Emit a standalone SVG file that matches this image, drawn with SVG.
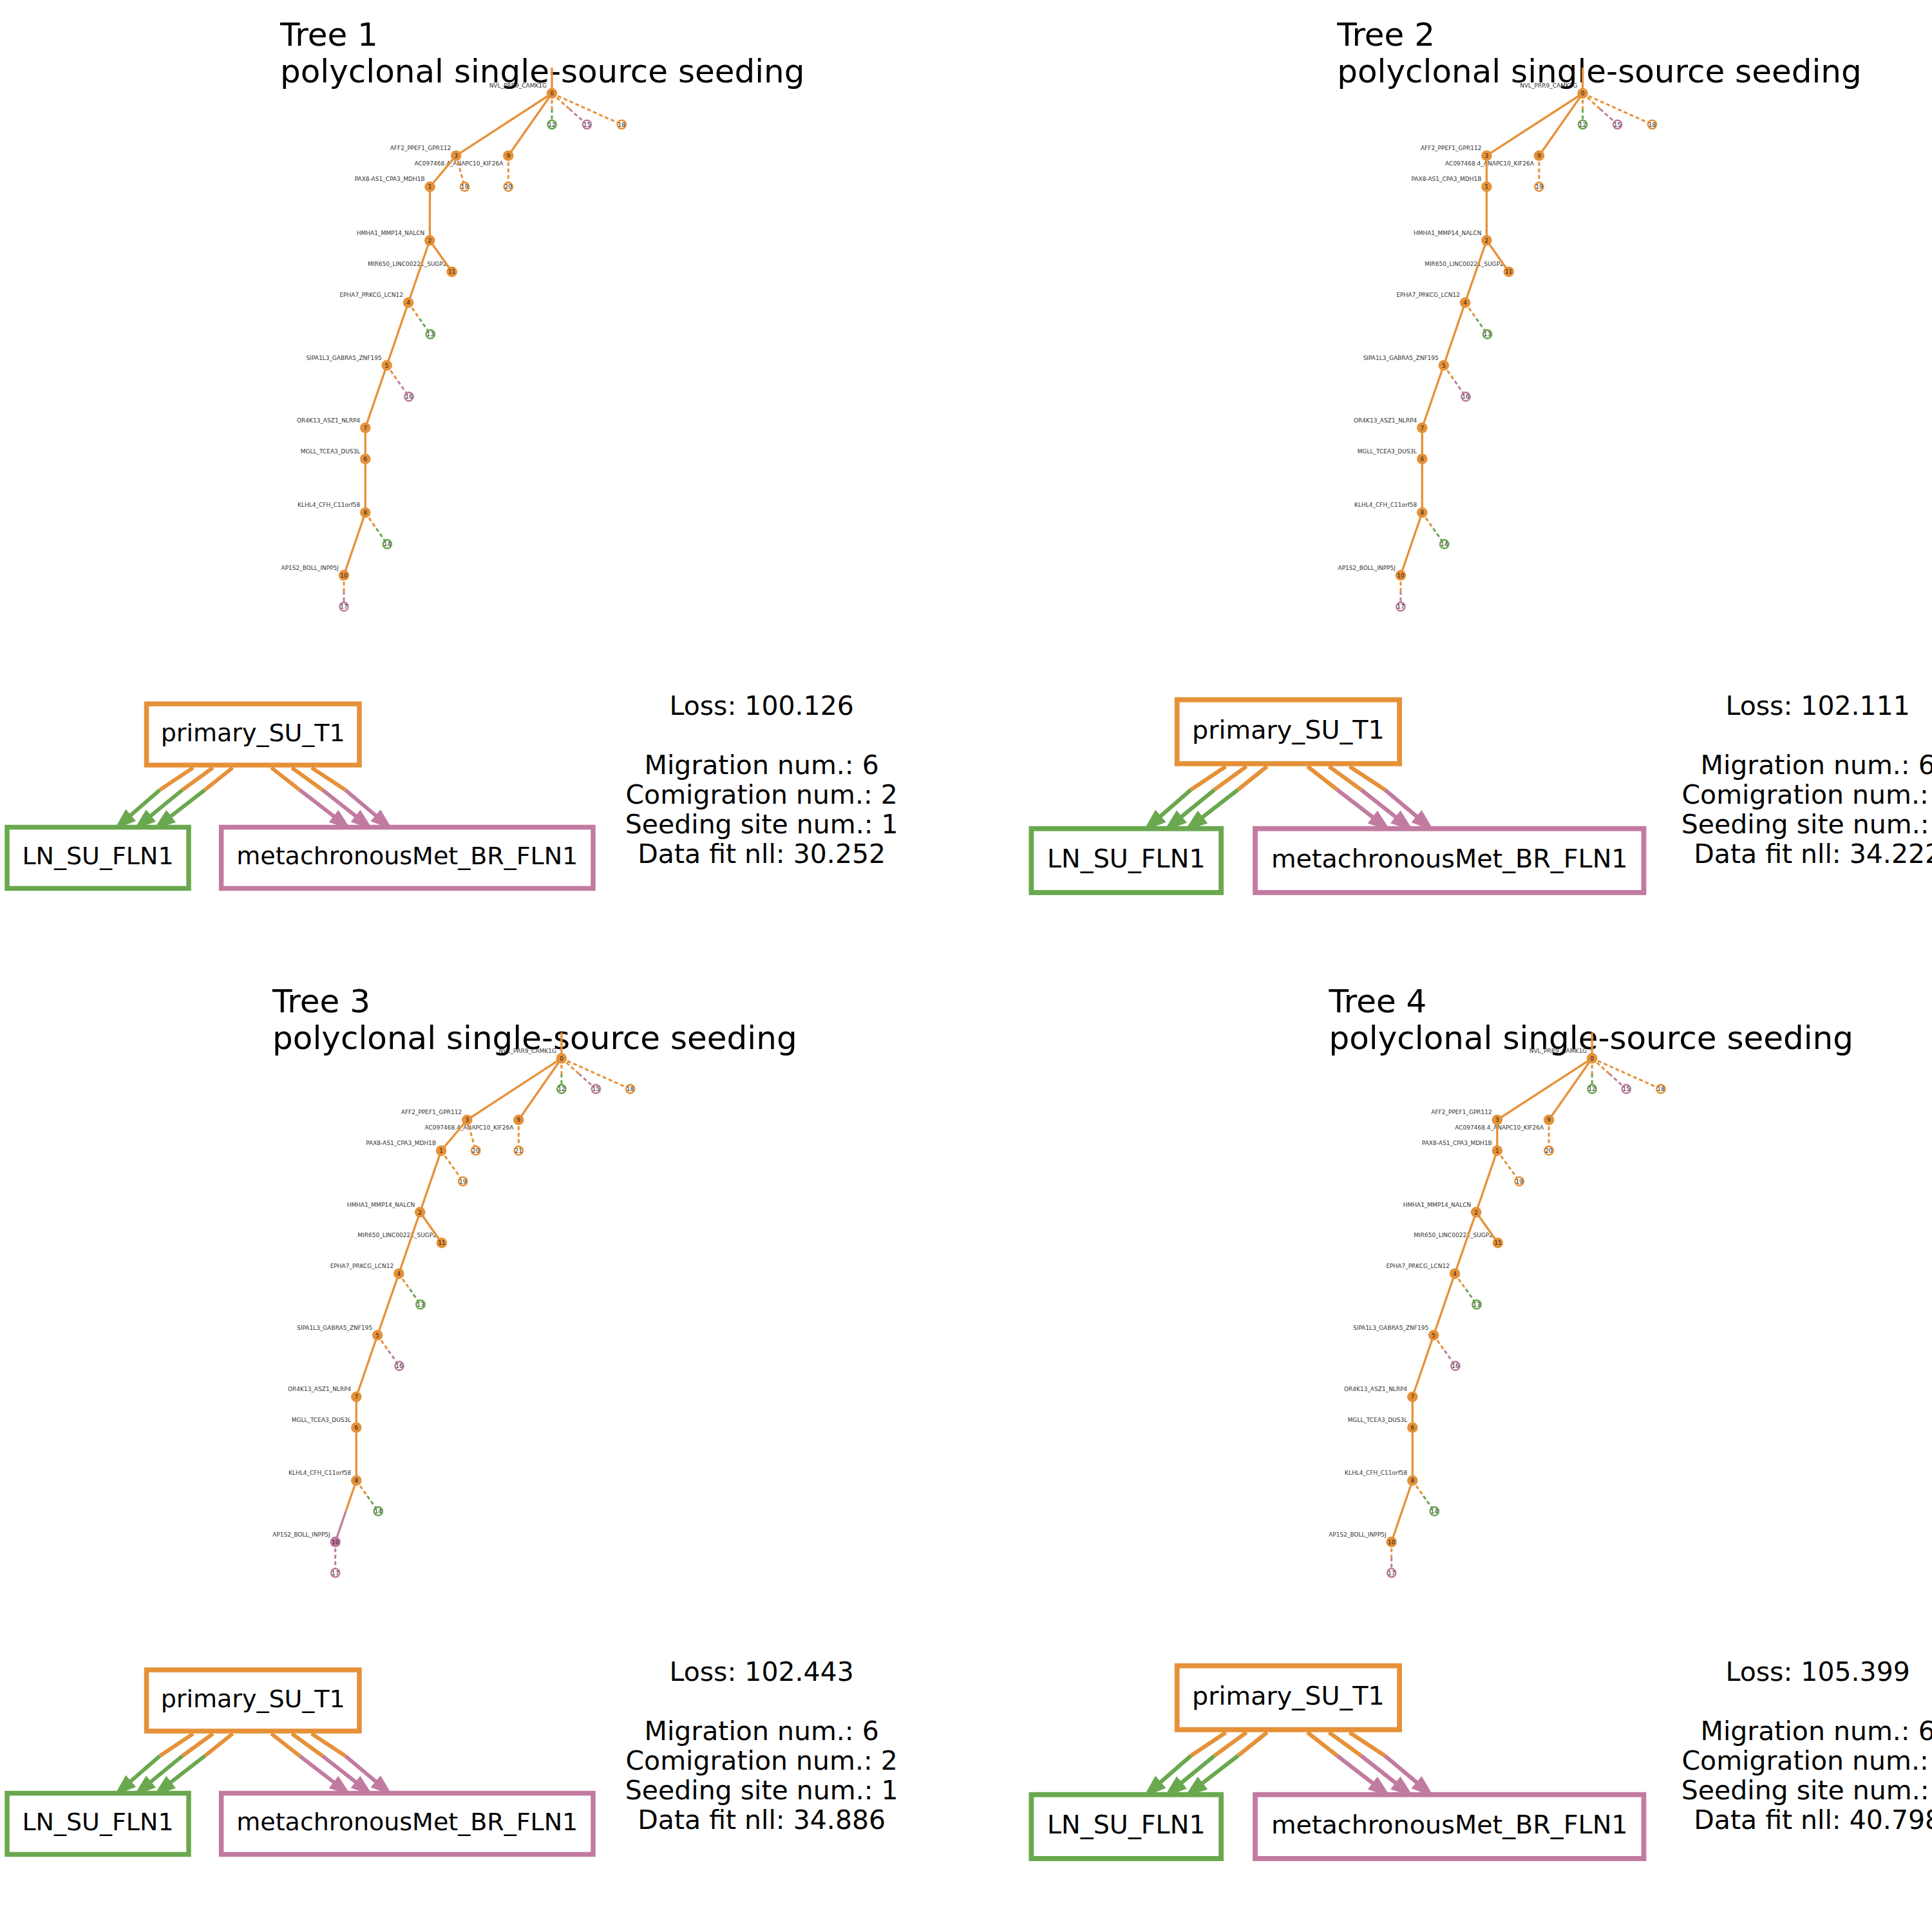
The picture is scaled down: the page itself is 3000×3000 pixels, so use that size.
<svg xmlns="http://www.w3.org/2000/svg" width="3000" height="3000" viewBox="0 0 3000 3000">
<style>
text{font-family:"DejaVu Sans","Liberation Sans",sans-serif}
.title{font-size:50px;fill:#000}
.stat{font-size:41px;fill:#000;text-anchor:middle}
.lbl{font-size:9px;fill:#333;text-anchor:end}
.num{font-size:9px;fill:#222;text-anchor:middle}
.gtx{font-size:38px;fill:#000;text-anchor:middle}
.se{stroke:#e69138;stroke-width:3.3;fill:none}
.sp{stroke:#c27ba0;stroke-width:3.3;fill:none}
.dO{stroke:#e69138;stroke-width:3;stroke-dasharray:6 4;fill:none}
.dG{stroke:#6aa84f;stroke-width:3;stroke-dasharray:6 4;fill:none}
.dP{stroke:#c27ba0;stroke-width:3;stroke-dasharray:6 4;fill:none}
.fo{fill:#e69138}
.fp{fill:#c27ba0}
.hO{fill:#fff;stroke:#e69138;stroke-width:2.6}
.hG{fill:#fff;stroke:#6aa84f;stroke-width:2.6}
.hP{fill:#fff;stroke:#c27ba0;stroke-width:2.6}
.bx{fill:#fff;stroke-width:7.5}
.bO{stroke:#e69138}.bG{stroke:#6aa84f}.bP{stroke:#c27ba0}
.mO{stroke:#e69138;stroke-width:6;fill:none}
.mG{stroke:#6aa84f;stroke-width:6;fill:none;marker-end:url(#ahG)}
.mP{stroke:#c27ba0;stroke-width:6;fill:none;marker-end:url(#ahP)}
</style>
<defs>
<marker id="ahG" markerUnits="userSpaceOnUse" markerWidth="36" markerHeight="26" refX="4" refY="12" orient="auto" overflow="visible"><path d="M0,0 L34,12 L0,24 z" fill="#6aa84f"/></marker>
<marker id="ahP" markerUnits="userSpaceOnUse" markerWidth="36" markerHeight="26" refX="4" refY="12" orient="auto" overflow="visible"><path d="M0,0 L34,12 L0,24 z" fill="#c27ba0"/></marker>
</defs>
<rect width="3000" height="3000" fill="#fff"/>

<!-- ================= TREE 1 ================= -->
<g id="tree1">
<text class="title" x="435" y="71">Tree 1</text>
<text class="title" x="435" y="128.3">polyclonal single-source seeding</text>
<g id="t1-labels">
<text class="lbl" x="849" y="136.3">NVL_PRR9_CAMK1G</text>
<text class="lbl" x="700.2" y="233">AFF2_PPEF1_GPR112</text>
<text class="lbl" x="781.3" y="257">AC097468.4_ANAPC10_KIF26A</text>
<text class="lbl" x="659.6" y="281.3">PAX8-AS1_CPA3_MDH1B</text>
<text class="lbl" x="659.3" y="364.6">HMHA1_MMP14_NALCN</text>
<text class="lbl" x="693.7" y="413.3">MIR650_LINC00221_SUGP2</text>
<text class="lbl" x="626" y="461.3">EPHA7_PRKCG_LCN12</text>
<text class="lbl" x="592.7" y="558.6">SIPA1L3_GABRA5_ZNF195</text>
<text class="lbl" x="559.3" y="655.6">OR4K13_ASZ1_NLRP4</text>
<text class="lbl" x="559.3" y="704">MGLL_TCEA3_DUS3L</text>
<text class="lbl" x="559.3" y="787.3">KLHL4_CFH_C11orf58</text>
<text class="lbl" x="526" y="884.6">AP1S2_BOLL_INPP5J</text>
</g>
<g id="t1-edges">
<path class="dO" d="M857,145 L857,169.2"/><path class="dG" d="M857,169.2 L857,193.3"/>
<path class="dO" d="M857,145 L884.2,169.2"/><path class="dP" d="M884.2,169.2 L911.4,193.3"/>
<path class="dO" d="M857,145 L965.3,193.3"/>
<path class="dO" d="M708.2,241.7 L721.6,290"/>
<path class="dO" d="M789.3,241.7 L789.3,290"/>
<path class="dO" d="M634,470 L651.2,494.5"/><path class="dG" d="M651.2,494.5 L668.3,519"/>
<path class="dO" d="M600.7,567.3 L617.9,591.7"/><path class="dP" d="M617.9,591.7 L635,616"/>
<path class="dO" d="M567.3,796 L584.3,820.5"/><path class="dG" d="M584.3,820.5 L601.3,845"/>
<path class="dO" d="M534,893.3 L534,917.7"/><path class="dP" d="M534,917.7 L534,942"/>
<path class="se" d="M857,105 L857,145"/>
<path class="se" d="M857,145 L708.2,241.7"/>
<path class="se" d="M857,145 L789.3,241.7"/>
<path class="se" d="M708.2,241.7 L667.6,290 L667.3,373.3 L634,470 L600.7,567.3 L567.3,664.3 L567.3,712.7 L567.3,796 L534,893.3"/>
<path class="se" d="M667.3,373.3 L701.7,422"/>
</g>
<g id="t1-n0"><circle class="fo" cx="857" cy="145" r="8.3"/><text class="num" x="857" y="148.2">0</text></g>
<g id="t1-n3"><circle class="fo" cx="708.2" cy="241.7" r="8.3"/><text class="num" x="708.2" y="244.9">3</text></g>
<g id="t1-n9"><circle class="fo" cx="789.3" cy="241.7" r="8.3"/><text class="num" x="789.3" y="244.9">9</text></g>
<g id="t1-n1"><circle class="fo" cx="667.6" cy="290" r="8.3"/><text class="num" x="667.6" y="293.2">1</text></g>
<g id="t1-n2"><circle class="fo" cx="667.3" cy="373.3" r="8.3"/><text class="num" x="667.3" y="376.5">2</text></g>
<g id="t1-n11"><circle class="fo" cx="701.7" cy="422" r="8.3"/><text class="num" x="701.7" y="425.2">11</text></g>
<g id="t1-n4"><circle class="fo" cx="634" cy="470" r="8.3"/><text class="num" x="634" y="473.2">4</text></g>
<g id="t1-n5"><circle class="fo" cx="600.7" cy="567.3" r="8.3"/><text class="num" x="600.7" y="570.5">5</text></g>
<g id="t1-n7"><circle class="fo" cx="567.3" cy="664.3" r="8.3"/><text class="num" x="567.3" y="667.5">7</text></g>
<g id="t1-n6"><circle class="fo" cx="567.3" cy="712.7" r="8.3"/><text class="num" x="567.3" y="715.9">6</text></g>
<g id="t1-n8"><circle class="fo" cx="567.3" cy="796" r="8.3"/><text class="num" x="567.3" y="799.2">8</text></g>
<g id="t1-n10"><circle class="fo" cx="534" cy="893.3" r="8.3"/><text class="num" x="534" y="896.5">10</text></g>
<g id="t1-n12"><circle class="hG" cx="857" cy="193.3" r="6.6"/><text class="num" x="857" y="196.5">12</text></g>
<g id="t1-n15"><circle class="hP" cx="911.4" cy="193.3" r="6.6"/><text class="num" x="911.4" y="196.5">15</text></g>
<g id="t1-n18"><circle class="hO" cx="965.3" cy="193.3" r="6.6"/><text class="num" x="965.3" y="196.5">18</text></g>
<g id="t1-n19"><circle class="hO" cx="721.6" cy="290" r="6.6"/><text class="num" x="721.6" y="293.2">19</text></g>
<g id="t1-n20"><circle class="hO" cx="789.3" cy="290" r="6.6"/><text class="num" x="789.3" y="293.2">20</text></g>
<g id="t1-n13"><circle class="hG" cx="668.3" cy="519" r="6.6"/><text class="num" x="668.3" y="522.2">13</text></g>
<g id="t1-n16"><circle class="hP" cx="635" cy="616" r="6.6"/><text class="num" x="635" y="619.2">16</text></g>
<g id="t1-n14"><circle class="hG" cx="601.3" cy="845" r="6.6"/><text class="num" x="601.3" y="848.2">14</text></g>
<g id="t1-n17"><circle class="hP" cx="534" cy="942" r="6.6"/><text class="num" x="534" y="945.2">17</text></g>
</g>

<!-- migration graph 1 -->
<g id="mig1">
<g id="mig1-nodes">
<g id="m1-primary"><rect class="bx bO" x="227.5" y="1093" width="330.5" height="95"/><text class="gtx" x="392.75" y="1150.7">primary_SU_T1</text></g>
<g id="m1-ln"><rect class="bx bG" x="11" y="1284.5" width="282" height="95"/><text class="gtx" x="152" y="1342">LN_SU_FLN1</text></g>
<g id="m1-met"><rect class="bx bP" x="343.6" y="1284.5" width="577.4" height="95"/><text class="gtx" x="632.3" y="1342">metachronousMet_BR_FLN1</text></g>
</g>
<g id="mig1-edges">
<path class="mO" d="M300,1192 L248,1226.7"/><path class="mG" d="M248,1226.7 L200.2,1268.3"/>
<path class="mO" d="M330.7,1192 L283,1226.7"/><path class="mG" d="M283,1226.7 L231.4,1269"/>
<path class="mO" d="M361.3,1192 L318,1226.7"/><path class="mG" d="M318,1226.7 L262.5,1269.6"/>
<path class="mO" d="M421.3,1192 L465.4,1226.7"/><path class="mP" d="M465.4,1226.7 L521.2,1269.7"/>
<path class="mO" d="M453.2,1192 L501,1226.7"/><path class="mP" d="M501,1226.7 L555.2,1269.4"/>
<path class="mO" d="M483.8,1192 L536.4,1226.7"/><path class="mP" d="M536.4,1226.7 L586.3,1268.7"/>
</g>
</g>
<g id="stats1">
<text class="stat" x="1182.7" y="1109.5">Loss: 100.126</text>
<text class="stat" x="1182.7" y="1201.5">Migration num.: 6</text>
<text class="stat" x="1182.7" y="1247.5">Comigration num.: 2</text>
<text class="stat" x="1182.7" y="1293.5">Seeding site num.: 1</text>
<text class="stat" x="1182.7" y="1339.5">Data fit nll: 30.252</text>
</g>

<!-- ================= TREE 2 ================= -->
<g id="tree2">
<text class="title" x="2076.2" y="71">Tree 2</text>
<text class="title" x="2076.2" y="128.3">polyclonal single-source seeding</text>
<g id="t2-labels">
<text class="lbl" x="2449.6" y="136.3">NVL_PRR9_CAMK1G</text>
<text class="lbl" x="2300.4" y="233">AFF2_PPEF1_GPR112</text>
<text class="lbl" x="2381.9" y="257">AC097468.4_ANAPC10_KIF26A</text>
<text class="lbl" x="2300.4" y="281.3">PAX8-AS1_CPA3_MDH1B</text>
<text class="lbl" x="2300.4" y="364.6">HMHA1_MMP14_NALCN</text>
<text class="lbl" x="2334.8" y="413.3">MIR650_LINC00221_SUGP2</text>
<text class="lbl" x="2267" y="461.3">EPHA7_PRKCG_LCN12</text>
<text class="lbl" x="2233.8" y="558.6">SIPA1L3_GABRA5_ZNF195</text>
<text class="lbl" x="2200.3" y="655.6">OR4K13_ASZ1_NLRP4</text>
<text class="lbl" x="2200.3" y="704">MGLL_TCEA3_DUS3L</text>
<text class="lbl" x="2200.3" y="787.3">KLHL4_CFH_C11orf58</text>
<text class="lbl" x="2167" y="884.6">AP1S2_BOLL_INPP5J</text>
</g>
<g id="t2-edges">
<path class="dO" d="M2457.6,145 L2457.6,169.2"/><path class="dG" d="M2457.6,169.2 L2457.6,193.3"/>
<path class="dO" d="M2457.6,145 L2484.6,169.2"/><path class="dP" d="M2484.6,169.2 L2511.6,193.3"/>
<path class="dO" d="M2457.6,145 L2565.5,193.3"/>
<path class="dO" d="M2389.9,241.7 L2389.9,290"/>
<path class="dO" d="M2275,470 L2292.3,494.5"/><path class="dG" d="M2292.3,494.5 L2309.5,519"/>
<path class="dO" d="M2241.8,567.3 L2258.9,591.7"/><path class="dP" d="M2258.9,591.7 L2276,616"/>
<path class="dO" d="M2208.3,796 L2225.5,820.5"/><path class="dG" d="M2225.5,820.5 L2242.7,845"/>
<path class="dO" d="M2175,893.3 L2175,917.7"/><path class="dP" d="M2175,917.7 L2175,942"/>
<path class="se" d="M2457.6,105 L2457.6,145"/>
<path class="se" d="M2457.6,145 L2308.4,241.7"/>
<path class="se" d="M2457.6,145 L2389.9,241.7"/>
<path class="se" d="M2308.4,241.7 L2308.4,290 L2308.4,373.3 L2275,470 L2241.8,567.3 L2208.3,664.3 L2208.3,712.7 L2208.3,796 L2175,893.3"/>
<path class="se" d="M2308.4,373.3 L2342.8,422"/>
</g>
<g id="t2-n0"><circle class="fo" cx="2457.6" cy="145" r="8.3"/><text class="num" x="2457.6" y="148.2">0</text></g>
<g id="t2-n3"><circle class="fo" cx="2308.4" cy="241.7" r="8.3"/><text class="num" x="2308.4" y="244.9">3</text></g>
<g id="t2-n9"><circle class="fo" cx="2389.9" cy="241.7" r="8.3"/><text class="num" x="2389.9" y="244.9">9</text></g>
<g id="t2-n1"><circle class="fo" cx="2308.4" cy="290" r="8.3"/><text class="num" x="2308.4" y="293.2">1</text></g>
<g id="t2-n2"><circle class="fo" cx="2308.4" cy="373.3" r="8.3"/><text class="num" x="2308.4" y="376.5">2</text></g>
<g id="t2-n11"><circle class="fo" cx="2342.8" cy="422" r="8.3"/><text class="num" x="2342.8" y="425.2">11</text></g>
<g id="t2-n4"><circle class="fo" cx="2275" cy="470" r="8.3"/><text class="num" x="2275" y="473.2">4</text></g>
<g id="t2-n5"><circle class="fo" cx="2241.8" cy="567.3" r="8.3"/><text class="num" x="2241.8" y="570.5">5</text></g>
<g id="t2-n7"><circle class="fo" cx="2208.3" cy="664.3" r="8.3"/><text class="num" x="2208.3" y="667.5">7</text></g>
<g id="t2-n6"><circle class="fo" cx="2208.3" cy="712.7" r="8.3"/><text class="num" x="2208.3" y="715.9">6</text></g>
<g id="t2-n8"><circle class="fo" cx="2208.3" cy="796" r="8.3"/><text class="num" x="2208.3" y="799.2">8</text></g>
<g id="t2-n10"><circle class="fo" cx="2175" cy="893.3" r="8.3"/><text class="num" x="2175" y="896.5">10</text></g>
<g id="t2-n12"><circle class="hG" cx="2457.6" cy="193.3" r="6.6"/><text class="num" x="2457.6" y="196.5">12</text></g>
<g id="t2-n15"><circle class="hP" cx="2511.6" cy="193.3" r="6.6"/><text class="num" x="2511.6" y="196.5">15</text></g>
<g id="t2-n18"><circle class="hO" cx="2565.5" cy="193.3" r="6.6"/><text class="num" x="2565.5" y="196.5">18</text></g>
<g id="t2-n19"><circle class="hO" cx="2389.9" cy="290" r="6.6"/><text class="num" x="2389.9" y="293.2">19</text></g>
<g id="t2-n13"><circle class="hG" cx="2309.5" cy="519" r="6.6"/><text class="num" x="2309.5" y="522.2">13</text></g>
<g id="t2-n16"><circle class="hP" cx="2276" cy="616" r="6.6"/><text class="num" x="2276" y="619.2">16</text></g>
<g id="t2-n14"><circle class="hG" cx="2242.7" cy="845" r="6.6"/><text class="num" x="2242.7" y="848.2">14</text></g>
<g id="t2-n17"><circle class="hP" cx="2175" cy="942" r="6.6"/><text class="num" x="2175" y="945.2">17</text></g>
</g>

<g id="mig2" transform="matrix(1.045 0 0 1.045 1590 -55.6)">
<g id="mig2-nodes">
<g id="m2-primary"><rect class="bx bO" x="227.5" y="1093" width="330.5" height="95"/><text class="gtx" x="392.75" y="1150.7">primary_SU_T1</text></g>
<g id="m2-ln"><rect class="bx bG" x="11" y="1284.5" width="282" height="95"/><text class="gtx" x="152" y="1342">LN_SU_FLN1</text></g>
<g id="m2-met"><rect class="bx bP" x="343.6" y="1284.5" width="577.4" height="95"/><text class="gtx" x="632.3" y="1342">metachronousMet_BR_FLN1</text></g>
</g>
<g id="mig2-edges">
<path class="mO" d="M300,1192 L248,1226.7"/><path class="mG" d="M248,1226.7 L200.2,1268.3"/>
<path class="mO" d="M330.7,1192 L283,1226.7"/><path class="mG" d="M283,1226.7 L231.4,1269"/>
<path class="mO" d="M361.3,1192 L318,1226.7"/><path class="mG" d="M318,1226.7 L262.5,1269.6"/>
<path class="mO" d="M421.3,1192 L465.4,1226.7"/><path class="mP" d="M465.4,1226.7 L521.2,1269.7"/>
<path class="mO" d="M453.2,1192 L501,1226.7"/><path class="mP" d="M501,1226.7 L555.2,1269.4"/>
<path class="mO" d="M483.8,1192 L536.4,1226.7"/><path class="mP" d="M536.4,1226.7 L586.3,1268.7"/>
</g>
</g>
<g id="stats2">
<text class="stat" x="2822.7" y="1109.5">Loss: 102.111</text>
<text class="stat" x="2822.7" y="1201.5">Migration num.: 6</text>
<text class="stat" x="2822.7" y="1247.5">Comigration num.: 2</text>
<text class="stat" x="2822.7" y="1293.5">Seeding site num.: 1</text>
<text class="stat" x="2822.7" y="1339.5">Data fit nll: 34.222</text>
</g>

<!-- ================= TREE 3 ================= -->
<g id="tree3">
<text class="title" x="423.1" y="1572">Tree 3</text>
<text class="title" x="423.1" y="1629.3">polyclonal single-source seeding</text>
<g id="t3-labels">
<text class="lbl" x="863.9" y="1634.6">NVL_PRR9_CAMK1G</text>
<text class="lbl" x="717.3" y="1730.3">AFF2_PPEF1_GPR112</text>
<text class="lbl" x="797.3" y="1754.3">AC097468.4_ANAPC10_KIF26A</text>
<text class="lbl" x="677.1" y="1778">PAX8-AS1_CPA3_MDH1B</text>
<text class="lbl" x="644.2" y="1873.6">HMHA1_MMP14_NALCN</text>
<text class="lbl" x="677.9" y="1921.3">MIR650_LINC00221_SUGP2</text>
<text class="lbl" x="611.3" y="1969">EPHA7_PRKCG_LCN12</text>
<text class="lbl" x="578.2" y="2064.6">SIPA1L3_GABRA5_ZNF195</text>
<text class="lbl" x="545.3" y="2160.3">OR4K13_ASZ1_NLRP4</text>
<text class="lbl" x="545.3" y="2208">MGLL_TCEA3_DUS3L</text>
<text class="lbl" x="545.3" y="2290.3">KLHL4_CFH_C11orf58</text>
<text class="lbl" x="512.7" y="2385.6">AP1S2_BOLL_INPP5J</text>
</g>
<g id="t3-edges">
<path class="dO" d="M871.9,1643.3 L871.9,1667.2"/><path class="dG" d="M871.9,1667.2 L871.9,1691"/>
<path class="dO" d="M871.9,1643.3 L898.7,1667.2"/><path class="dP" d="M898.7,1667.2 L925.4,1691"/>
<path class="dO" d="M871.9,1643.3 L978.6,1691"/>
<path class="dO" d="M725.3,1739 L738.7,1786.7"/>
<path class="dO" d="M805.3,1739 L805.3,1786.7"/>
<path class="dO" d="M685.1,1786.7 L718.8,1834.3"/>
<path class="dO" d="M619.3,1977.7 L636.2,2001.7"/><path class="dG" d="M636.2,2001.7 L653,2025.7"/>
<path class="dO" d="M586.2,2073.3 L603.1,2097.2"/><path class="dP" d="M603.1,2097.2 L620,2121"/>
<path class="dO" d="M553.3,2299 L570.3,2322.9"/><path class="dG" d="M570.3,2322.9 L587.3,2346.7"/>
<path class="dP" d="M520.7,2394.3 L520.7,2442.3"/>
<path class="se" d="M871.9,1603.3 L871.9,1643.3"/>
<path class="se" d="M871.9,1643.3 L725.3,1739"/>
<path class="se" d="M871.9,1643.3 L805.3,1739"/>
<path class="se" d="M725.3,1739 L685.1,1786.7 L652.2,1882.3 L619.3,1977.7 L586.2,2073.3 L553.3,2169 L553.3,2216.7 L553.3,2299 L537,2346.7"/>
<path class="sp" d="M537,2346.7 L520.7,2394.3"/>
<path class="se" d="M652.2,1882.3 L685.9,1930"/>
</g>
<g id="t3-n0"><circle class="fo" cx="871.9" cy="1643.3" r="8.3"/><text class="num" x="871.9" y="1646.5">0</text></g>
<g id="t3-n3"><circle class="fo" cx="725.3" cy="1739" r="8.3"/><text class="num" x="725.3" y="1742.2">3</text></g>
<g id="t3-n9"><circle class="fo" cx="805.3" cy="1739" r="8.3"/><text class="num" x="805.3" y="1742.2">9</text></g>
<g id="t3-n1"><circle class="fo" cx="685.1" cy="1786.7" r="8.3"/><text class="num" x="685.1" y="1789.9">1</text></g>
<g id="t3-n2"><circle class="fo" cx="652.2" cy="1882.3" r="8.3"/><text class="num" x="652.2" y="1885.5">2</text></g>
<g id="t3-n11"><circle class="fo" cx="685.9" cy="1930" r="8.3"/><text class="num" x="685.9" y="1933.2">11</text></g>
<g id="t3-n4"><circle class="fo" cx="619.3" cy="1977.7" r="8.3"/><text class="num" x="619.3" y="1980.9">4</text></g>
<g id="t3-n5"><circle class="fo" cx="586.2" cy="2073.3" r="8.3"/><text class="num" x="586.2" y="2076.5">5</text></g>
<g id="t3-n7"><circle class="fo" cx="553.3" cy="2169" r="8.3"/><text class="num" x="553.3" y="2172.2">7</text></g>
<g id="t3-n6"><circle class="fo" cx="553.3" cy="2216.7" r="8.3"/><text class="num" x="553.3" y="2219.9">6</text></g>
<g id="t3-n8"><circle class="fo" cx="553.3" cy="2299" r="8.3"/><text class="num" x="553.3" y="2302.2">8</text></g>
<g id="t3-n10"><circle class="fp" cx="520.7" cy="2394.3" r="8.3"/><text class="num" x="520.7" y="2397.5">10</text></g>
<g id="t3-n12"><circle class="hG" cx="871.9" cy="1691" r="6.6"/><text class="num" x="871.9" y="1694.2">12</text></g>
<g id="t3-n15"><circle class="hP" cx="925.4" cy="1691" r="6.6"/><text class="num" x="925.4" y="1694.2">15</text></g>
<g id="t3-n18"><circle class="hO" cx="978.6" cy="1691" r="6.6"/><text class="num" x="978.6" y="1694.2">18</text></g>
<g id="t3-n20"><circle class="hO" cx="738.7" cy="1786.7" r="6.6"/><text class="num" x="738.7" y="1789.9">20</text></g>
<g id="t3-n21"><circle class="hO" cx="805.3" cy="1786.7" r="6.6"/><text class="num" x="805.3" y="1789.9">21</text></g>
<g id="t3-n19"><circle class="hO" cx="718.8" cy="1834.3" r="6.6"/><text class="num" x="718.8" y="1837.5">19</text></g>
<g id="t3-n13"><circle class="hG" cx="653" cy="2025.7" r="6.6"/><text class="num" x="653" y="2028.9">13</text></g>
<g id="t3-n16"><circle class="hP" cx="620" cy="2121" r="6.6"/><text class="num" x="620" y="2124.2">16</text></g>
<g id="t3-n14"><circle class="hG" cx="587.3" cy="2346.7" r="6.6"/><text class="num" x="587.3" y="2349.9">14</text></g>
<g id="t3-n17"><circle class="hP" cx="520.7" cy="2442.3" r="6.6"/><text class="num" x="520.7" y="2445.5">17</text></g>
</g>

<g id="mig3" transform="translate(0 1500)">
<g id="mig3-nodes">
<g id="m3-primary"><rect class="bx bO" x="227.5" y="1093" width="330.5" height="95"/><text class="gtx" x="392.75" y="1150.7">primary_SU_T1</text></g>
<g id="m3-ln"><rect class="bx bG" x="11" y="1284.5" width="282" height="95"/><text class="gtx" x="152" y="1342">LN_SU_FLN1</text></g>
<g id="m3-met"><rect class="bx bP" x="343.6" y="1284.5" width="577.4" height="95"/><text class="gtx" x="632.3" y="1342">metachronousMet_BR_FLN1</text></g>
</g>
<g id="mig3-edges">
<path class="mO" d="M300,1192 L248,1226.7"/><path class="mG" d="M248,1226.7 L200.2,1268.3"/>
<path class="mO" d="M330.7,1192 L283,1226.7"/><path class="mG" d="M283,1226.7 L231.4,1269"/>
<path class="mO" d="M361.3,1192 L318,1226.7"/><path class="mG" d="M318,1226.7 L262.5,1269.6"/>
<path class="mO" d="M421.3,1192 L465.4,1226.7"/><path class="mP" d="M465.4,1226.7 L521.2,1269.7"/>
<path class="mO" d="M453.2,1192 L501,1226.7"/><path class="mP" d="M501,1226.7 L555.2,1269.4"/>
<path class="mO" d="M483.8,1192 L536.4,1226.7"/><path class="mP" d="M536.4,1226.7 L586.3,1268.7"/>
</g>
</g>
<g id="stats3">
<text class="stat" x="1182.7" y="2609.5">Loss: 102.443</text>
<text class="stat" x="1182.7" y="2701.5">Migration num.: 6</text>
<text class="stat" x="1182.7" y="2747.5">Comigration num.: 2</text>
<text class="stat" x="1182.7" y="2793.5">Seeding site num.: 1</text>
<text class="stat" x="1182.7" y="2839.5">Data fit nll: 34.886</text>
</g>

<!-- ================= TREE 4 ================= -->
<g id="tree4">
<text class="title" x="2063.5" y="1572">Tree 4</text>
<text class="title" x="2063.5" y="1629.3">polyclonal single-source seeding</text>
<g id="t4-labels">
<text class="lbl" x="2464.1" y="1634.6">NVL_PRR9_CAMK1G</text>
<text class="lbl" x="2316.8" y="1730.3">AFF2_PPEF1_GPR112</text>
<text class="lbl" x="2397.1" y="1754.3">AC097468.4_ANAPC10_KIF26A</text>
<text class="lbl" x="2316.8" y="1778">PAX8-AS1_CPA3_MDH1B</text>
<text class="lbl" x="2284.2" y="1873.6">HMHA1_MMP14_NALCN</text>
<text class="lbl" x="2317.9" y="1921.3">MIR650_LINC00221_SUGP2</text>
<text class="lbl" x="2251" y="1969">EPHA7_PRKCG_LCN12</text>
<text class="lbl" x="2218.2" y="2064.6">SIPA1L3_GABRA5_ZNF195</text>
<text class="lbl" x="2185.3" y="2160.3">OR4K13_ASZ1_NLRP4</text>
<text class="lbl" x="2185.3" y="2208">MGLL_TCEA3_DUS3L</text>
<text class="lbl" x="2185.3" y="2290.3">KLHL4_CFH_C11orf58</text>
<text class="lbl" x="2152.7" y="2385.6">AP1S2_BOLL_INPP5J</text>
</g>
<g id="t4-edges">
<path class="dO" d="M2472.1,1643.3 L2472.1,1667.2"/><path class="dG" d="M2472.1,1667.2 L2472.1,1691"/>
<path class="dO" d="M2472.1,1643.3 L2498.7,1667.2"/><path class="dP" d="M2498.7,1667.2 L2525.3,1691"/>
<path class="dO" d="M2472.1,1643.3 L2578.9,1691"/>
<path class="dO" d="M2405.1,1739 L2405.1,1786.7"/>
<path class="dO" d="M2324.8,1786.7 L2359.2,1834.3"/>
<path class="dO" d="M2259,1977.7 L2276,2001.7"/><path class="dG" d="M2276,2001.7 L2293,2025.7"/>
<path class="dO" d="M2226.2,2073.3 L2243.1,2097.2"/><path class="dP" d="M2243.1,2097.2 L2260,2121"/>
<path class="dO" d="M2193.3,2299 L2210.3,2322.9"/><path class="dG" d="M2210.3,2322.9 L2227.3,2346.7"/>
<path class="dO" d="M2160.7,2394.3 L2160.7,2418.3"/><path class="dP" d="M2160.7,2418.3 L2160.7,2442.3"/>
<path class="se" d="M2472.1,1603.3 L2472.1,1643.3"/>
<path class="se" d="M2472.1,1643.3 L2324.8,1739"/>
<path class="se" d="M2472.1,1643.3 L2405.1,1739"/>
<path class="se" d="M2324.8,1739 L2324.8,1786.7 L2292.2,1882.3 L2259,1977.7 L2226.2,2073.3 L2193.3,2169 L2193.3,2216.7 L2193.3,2299 L2160.7,2394.3"/>
<path class="se" d="M2292.2,1882.3 L2325.9,1930"/>
</g>
<g id="t4-n0"><circle class="fo" cx="2472.1" cy="1643.3" r="8.3"/><text class="num" x="2472.1" y="1646.5">0</text></g>
<g id="t4-n3"><circle class="fo" cx="2324.8" cy="1739" r="8.3"/><text class="num" x="2324.8" y="1742.2">3</text></g>
<g id="t4-n9"><circle class="fo" cx="2405.1" cy="1739" r="8.3"/><text class="num" x="2405.1" y="1742.2">9</text></g>
<g id="t4-n1"><circle class="fo" cx="2324.8" cy="1786.7" r="8.3"/><text class="num" x="2324.8" y="1789.9">1</text></g>
<g id="t4-n2"><circle class="fo" cx="2292.2" cy="1882.3" r="8.3"/><text class="num" x="2292.2" y="1885.5">2</text></g>
<g id="t4-n11"><circle class="fo" cx="2325.9" cy="1930" r="8.3"/><text class="num" x="2325.9" y="1933.2">11</text></g>
<g id="t4-n4"><circle class="fo" cx="2259" cy="1977.7" r="8.3"/><text class="num" x="2259" y="1980.9">4</text></g>
<g id="t4-n5"><circle class="fo" cx="2226.2" cy="2073.3" r="8.3"/><text class="num" x="2226.2" y="2076.5">5</text></g>
<g id="t4-n7"><circle class="fo" cx="2193.3" cy="2169" r="8.3"/><text class="num" x="2193.3" y="2172.2">7</text></g>
<g id="t4-n6"><circle class="fo" cx="2193.3" cy="2216.7" r="8.3"/><text class="num" x="2193.3" y="2219.9">6</text></g>
<g id="t4-n8"><circle class="fo" cx="2193.3" cy="2299" r="8.3"/><text class="num" x="2193.3" y="2302.2">8</text></g>
<g id="t4-n10"><circle class="fo" cx="2160.7" cy="2394.3" r="8.3"/><text class="num" x="2160.7" y="2397.5">10</text></g>
<g id="t4-n12"><circle class="hG" cx="2472.1" cy="1691" r="6.6"/><text class="num" x="2472.1" y="1694.2">12</text></g>
<g id="t4-n15"><circle class="hP" cx="2525.3" cy="1691" r="6.6"/><text class="num" x="2525.3" y="1694.2">15</text></g>
<g id="t4-n18"><circle class="hO" cx="2578.9" cy="1691" r="6.6"/><text class="num" x="2578.9" y="1694.2">18</text></g>
<g id="t4-n20"><circle class="hO" cx="2405.1" cy="1786.7" r="6.6"/><text class="num" x="2405.1" y="1789.9">20</text></g>
<g id="t4-n19"><circle class="hO" cx="2359.2" cy="1834.3" r="6.6"/><text class="num" x="2359.2" y="1837.5">19</text></g>
<g id="t4-n13"><circle class="hG" cx="2293" cy="2025.7" r="6.6"/><text class="num" x="2293" y="2028.9">13</text></g>
<g id="t4-n16"><circle class="hP" cx="2260" cy="2121" r="6.6"/><text class="num" x="2260" y="2124.2">16</text></g>
<g id="t4-n14"><circle class="hG" cx="2227.3" cy="2346.7" r="6.6"/><text class="num" x="2227.3" y="2349.9">14</text></g>
<g id="t4-n17"><circle class="hP" cx="2160.7" cy="2442.3" r="6.6"/><text class="num" x="2160.7" y="2445.5">17</text></g>
</g>

<g id="mig4" transform="matrix(1.045 0 0 1.045 1590 1444.4)">
<g id="mig4-nodes">
<g id="m4-primary"><rect class="bx bO" x="227.5" y="1093" width="330.5" height="95"/><text class="gtx" x="392.75" y="1150.7">primary_SU_T1</text></g>
<g id="m4-ln"><rect class="bx bG" x="11" y="1284.5" width="282" height="95"/><text class="gtx" x="152" y="1342">LN_SU_FLN1</text></g>
<g id="m4-met"><rect class="bx bP" x="343.6" y="1284.5" width="577.4" height="95"/><text class="gtx" x="632.3" y="1342">metachronousMet_BR_FLN1</text></g>
</g>
<g id="mig4-edges">
<path class="mO" d="M300,1192 L248,1226.7"/><path class="mG" d="M248,1226.7 L200.2,1268.3"/>
<path class="mO" d="M330.7,1192 L283,1226.7"/><path class="mG" d="M283,1226.7 L231.4,1269"/>
<path class="mO" d="M361.3,1192 L318,1226.7"/><path class="mG" d="M318,1226.7 L262.5,1269.6"/>
<path class="mO" d="M421.3,1192 L465.4,1226.7"/><path class="mP" d="M465.4,1226.7 L521.2,1269.7"/>
<path class="mO" d="M453.2,1192 L501,1226.7"/><path class="mP" d="M501,1226.7 L555.2,1269.4"/>
<path class="mO" d="M483.8,1192 L536.4,1226.7"/><path class="mP" d="M536.4,1226.7 L586.3,1268.7"/>
</g>
</g>
<g id="stats4">
<text class="stat" x="2822.7" y="2609.5">Loss: 105.399</text>
<text class="stat" x="2822.7" y="2701.5">Migration num.: 6</text>
<text class="stat" x="2822.7" y="2747.5">Comigration num.: 2</text>
<text class="stat" x="2822.7" y="2793.5">Seeding site num.: 1</text>
<text class="stat" x="2822.7" y="2839.5">Data fit nll: 40.798</text>
</g>
</svg>
